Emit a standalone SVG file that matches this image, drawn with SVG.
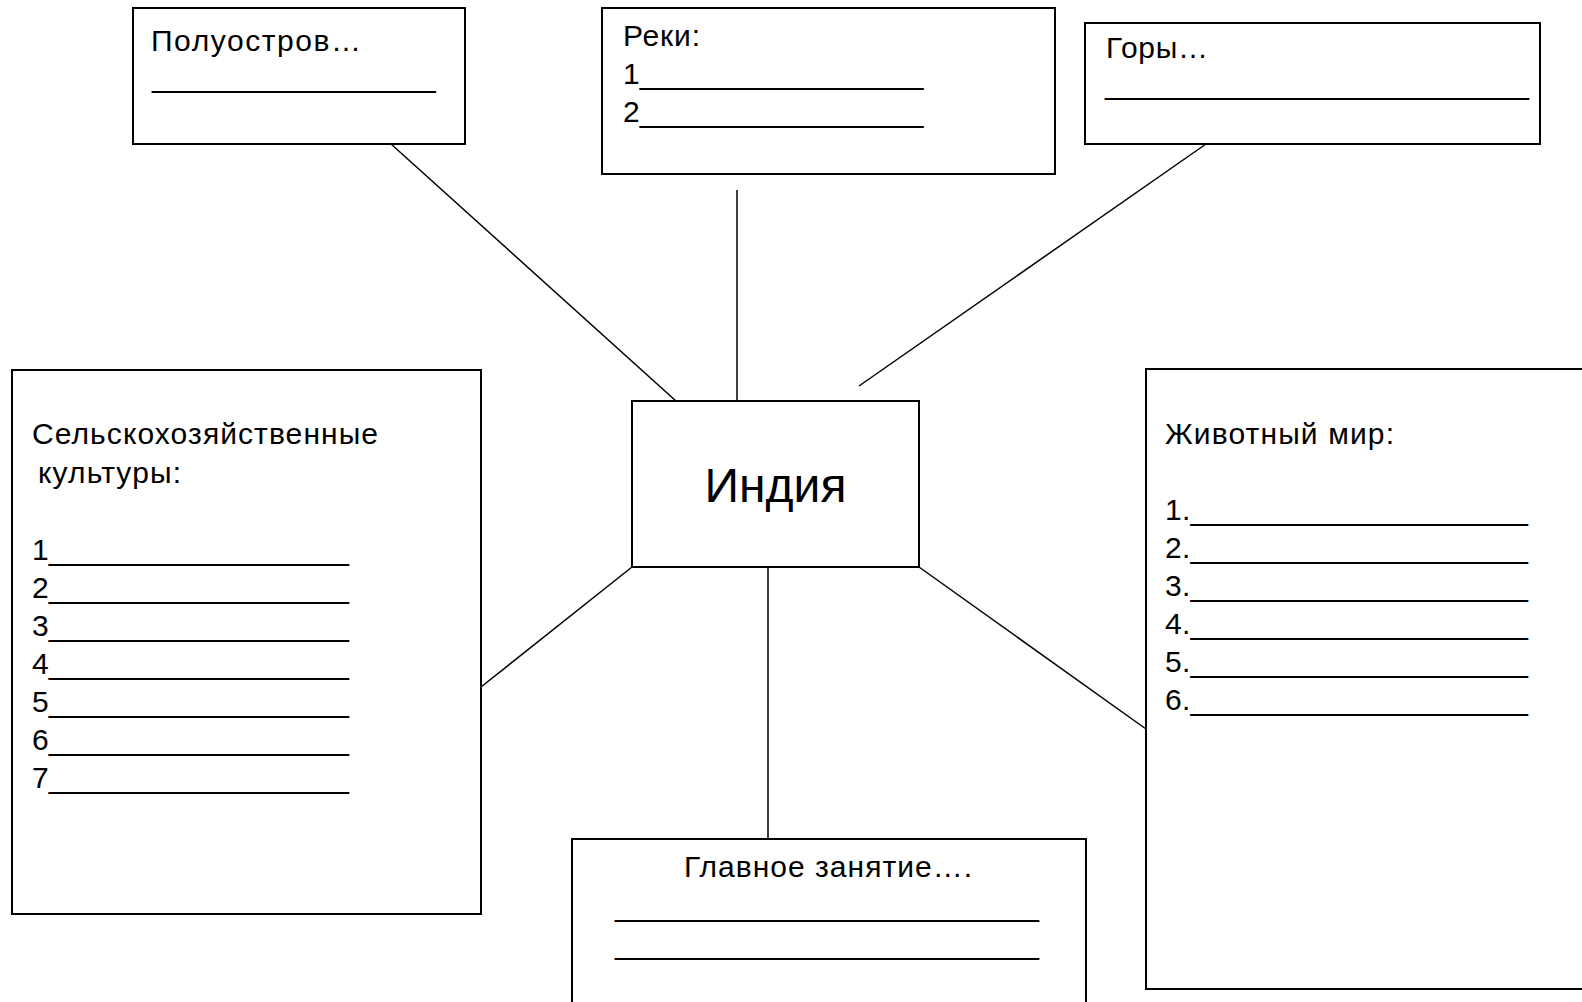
<svg xmlns="http://www.w3.org/2000/svg" width="1582" height="1002" viewBox="0 0 1582 1002">
<style>
.box{fill:#fff;stroke:#000;stroke-width:2}
.t{font-family:"Liberation Sans",Arial,sans-serif;font-size:30px;fill:#000}
.big{font-family:"Liberation Sans",Arial,sans-serif;font-size:48px;fill:#000}
.c line{stroke:#000;stroke-width:1.5}
</style>
<rect width="1582" height="1002" fill="#fff"/>
<g class="c" id="connectors">
<line x1="391" y1="144" x2="676" y2="401"/>
<line x1="737" y1="190" x2="737" y2="401"/>
<line x1="1206" y1="144" x2="859" y2="386"/>
<line x1="632" y1="567" x2="481" y2="687"/>
<line x1="768" y1="567" x2="768" y2="839"/>
<line x1="919" y1="567" x2="1146" y2="729"/>
</g>
<g id="poluostrov">
<rect class="box" x="133" y="8" width="332" height="136"/>
<text class="t" x="151" y="51" textLength="210" lengthAdjust="spacing">Полуостров…</text>
<text class="t" x="152" y="87">_________________</text>
</g>
<g id="reki">
<rect class="box" x="602" y="8" width="453" height="166"/>
<text class="t" x="623" y="46" textLength="77" lengthAdjust="spacing">Реки:</text>
<text class="t" x="623" y="84">1_________________</text>
<text class="t" x="623" y="122">2_________________</text>
</g>
<g id="gory">
<rect class="box" x="1085" y="23" width="455" height="121"/>
<text class="t" x="1106" y="58" textLength="102" lengthAdjust="spacing">Горы…</text>
<text class="t" x="1105" y="94" textLength="424" lengthAdjust="spacingAndGlyphs">_________________________</text>
</g>
<g id="india">
<rect class="box" x="632" y="401" width="287" height="166"/>
<text class="big" x="775.5" y="502" text-anchor="middle">Индия</text>
</g>
<g id="selkhoz">
<rect class="box" x="12" y="370" width="469" height="544"/>
<text class="t" x="32" y="444" textLength="346" lengthAdjust="spacing">Сельскохозяйственные</text>
<text class="t" x="38" y="483" textLength="143" lengthAdjust="spacing">культуры:</text>
<text class="t" x="32" y="560">1__________________</text>
<text class="t" x="32" y="598">2__________________</text>
<text class="t" x="32" y="636">3__________________</text>
<text class="t" x="32" y="674">4__________________</text>
<text class="t" x="32" y="712">5__________________</text>
<text class="t" x="32" y="750">6__________________</text>
<text class="t" x="32" y="788">7__________________</text>
</g>
<g id="zhivotny">
<rect class="box" x="1146" y="369" width="450" height="620"/>
<text class="t" x="1165" y="444" textLength="229" lengthAdjust="spacing">Животный мир:</text>
<text class="t" x="1165" y="520" textLength="363" lengthAdjust="spacing">1.____________________</text>
<text class="t" x="1165" y="558" textLength="363" lengthAdjust="spacing">2.____________________</text>
<text class="t" x="1165" y="596" textLength="363" lengthAdjust="spacing">3.____________________</text>
<text class="t" x="1165" y="634" textLength="363" lengthAdjust="spacing">4.____________________</text>
<text class="t" x="1165" y="672" textLength="363" lengthAdjust="spacing">5.____________________</text>
<text class="t" x="1165" y="710" textLength="363" lengthAdjust="spacing">6.____________________</text>
</g>
<g id="glavnoe">
<rect class="box" x="572" y="839" width="514" height="180"/>
<text class="t" x="684" y="877" textLength="288" lengthAdjust="spacing">Главное занятие….</text>
<text class="t" x="615" y="916" textLength="424" lengthAdjust="spacingAndGlyphs">_________________________</text>
<text class="t" x="615" y="954" textLength="424" lengthAdjust="spacingAndGlyphs">_________________________</text>
</g>
</svg>
